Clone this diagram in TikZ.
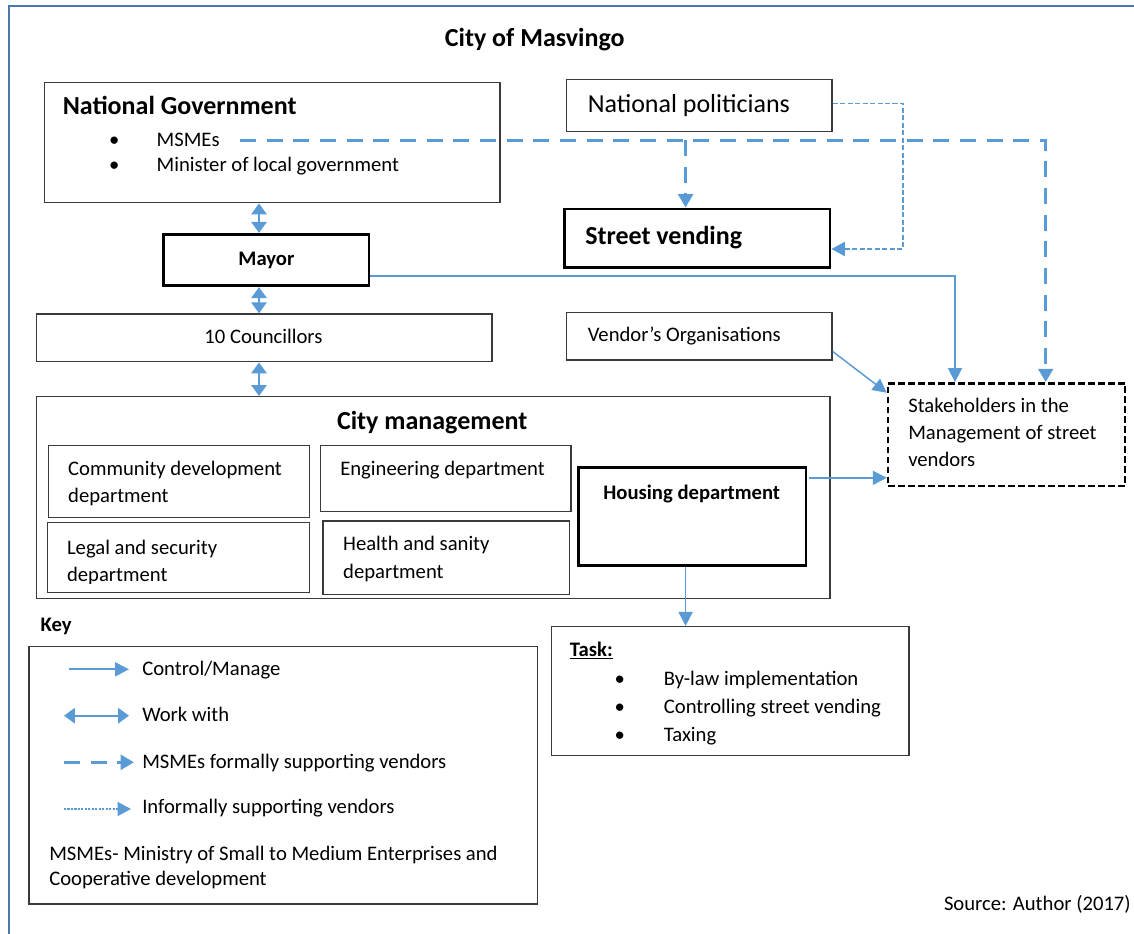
\documentclass[tikz,border=0pt]{standalone}
\usepackage{fontspec}
\setmainfont{Carlito}
\usetikzlibrary{arrows.meta,fit}

\definecolor{arrowblue}{HTML}{5B9BD5}
\definecolor{framebl}{HTML}{4A78AC}
\definecolor{boxgray}{HTML}{3A3A3A}

\newcommand\rowsL[1]{\begin{tabular}[t]{@{}l@{}}#1\end{tabular}}
\newcommand\bodysize{\fontsize{15.5}{20.8}\selectfont}
\newcommand\bigsize{\fontsize{19.5}{23}\selectfont}

\tikzset{
  box/.style={draw=boxgray, line width=1.1pt, inner sep=0pt},
  heavybox/.style={draw=black, line width=2.2pt, inner sep=0pt},
  stakebox/.style={draw=black, line width=1.8pt, dash pattern=on 5pt off 2.5pt, inner sep=0pt},
  txt/.style={inner sep=0pt, anchor=base west, font=\bodysize},
  bigtxt/.style={txt, font=\bigsize},
  control/.style={draw=arrowblue, line width=1.1pt, -{Triangle[length=10.5pt,width=10.5pt]}},
  workwith/.style={draw=arrowblue, line width=1.5pt,
    {Triangle[length=8.2pt,width=11.5pt]}-{Triangle[length=8.2pt,width=11.5pt]}},
  formal/.style={draw=arrowblue, line width=2.3pt, dash pattern=on 12pt off 8pt,
    -{Triangle[length=10pt,width=11pt]}},
  informal/.style={draw=arrowblue, line width=1.4pt, dash pattern=on 3.8pt off 1.8pt,
    -{Triangle[length=10pt,width=10.5pt]}},
  keycontrol/.style={control, line width=1.7pt},
  keyinformal/.style={informal, line width=0.8pt, dash pattern=on 1.6pt off 1pt},
}

\begin{document}
\begin{tikzpicture}[x=0.75pt, y=-0.75pt]
\useasboundingbox (0,0) rectangle (1134,934);

% page frame
\draw[framebl, line width=2pt] (9,934) -- (9,6) -- (1134,6);

% title
\node[txt, font=\bigsize\bfseries] (title) at (444.6,46.7) {City of Masvingo};

% national government
\node[box, fit={(44.6,82.3) (500,202.7)}] (natgov) {};
\node[txt, font=\bigsize\bfseries] (natgov-t) at (62.5,115) {National Government};
\node[txt, anchor=base] (ngb1) at (114.3,147) {•};
\node[txt, anchor=base] (ngb2) at (114.3,172) {•};
\node[txt] (msmes) at (156.4,147) {MSMEs};
\node[txt] (minister) at (156.4,172) {Minister of local government};

% national politicians and street vending
\node[box, fit={(566.6,79.3) (832,131.7)}] (natpol) {};
\node[bigtxt] (natpol-t) at (587.5,112.7) {National politicians};
\node[heavybox, fit={(564.7,209) (830,267.3)}] (street) {};
\node[txt, font=\bigsize\bfseries] (street-t) at (585,244) {Street vending};

% mayor and councillors
\node[heavybox, fit={(163.6,234.3) (369,285.7)}] (mayor) {};
\node[txt, anchor=base, font=\bodysize\bfseries] (mayor-t) at (266.4,265) {Mayor};
\node[box, fit={(36.4,314) (491.8,361.7)}] (council) {};
\node[txt, anchor=base] (council-t) at (263.4,343) {10 Councillors};

% vendors' organisations
\node[box, fit={(566.6,312.3) (832,360)}] (vendor) {};
\node[txt] (vendor-t) at (587.5,341.7) {Vendor’s Organisations};

% city management and departments
\node[box, fit={(36.4,396.7) (830,598.3)}] (citymgmt) {};
\node[txt, font=\bigsize\bfseries] (citymgmt-t) at (336.8,429.3) {City management};
\node[box, fit={(48.6,445.7) (309.3,517.3)}] (community) {};
\node[txt] (community-t) at (67.9,475) {\rowsL{Community development\\department}};
\node[box, fit={(320.4,445.7) (571,511.7)}] (engineering) {};
\node[txt] (engineering-t) at (340,475) {Engineering department};
\node[box, fit={(47.5,522.7) (309.3,592.7)}] (legal) {};
\begin{scope}
  \clip (47.5,522.7) rectangle (309.3,583.5);
  \node[txt] (legal-t) at (66.8,554) {\rowsL{Legal and security\\department}};
\end{scope}
\node[box, fit={(323.2,521) (569.7,594.3)}] (health) {};
\node[txt] (health-t) at (342.9,550.7) {\rowsL{Health and sanity\\department}};
\node[heavybox, fit={(578.8,467.3) (806,565.7)}] (housing) {};
\node[txt, anchor=base, font=\bodysize\bfseries] (housing-t) at (691.7,499) {Housing department};

% stakeholders
\node[stakebox, fit={(888,383.3) (1125,486)}] (stake) {};
\node[txt, font=\fontsize{15.5}{20.25}\selectfont] (stake-t) at (908,412.7)
  {\rowsL{Stakeholders in the\\Management of street\\vendors}};

% task box
\node[box, fit={(551.4,626.7) (908.8,755.7)}] (task) {};
\node[txt, font=\bodysize\bfseries] (task-t) at (569.7,656) {\underline{Task:}};
\node[txt, anchor=base] (tb1) at (619.8,685) {•};
\node[txt, anchor=base] (tb2) at (619.8,713.3) {•};
\node[txt, anchor=base] (tb3) at (619.8,741.7) {•};
\node[txt] (task1) at (663.6,685) {By-law implementation};
\node[txt] (task2) at (663.6,713.3) {Controlling street vending};
\node[txt] (task3) at (663.6,741.7) {Taxing};

% connectors
\coordinate (wcol) at (259,0);
\draw[workwith] (wcol |- natgov.south) -- (wcol |- mayor.north);
\draw[workwith] (wcol |- mayor.south) -- (wcol |- council.north);
\draw[workwith] (wcol |- council.south) -- (wcol |- citymgmt.north);

\coordinate (fcol) at (1045.7,0);
\coordinate (fbranch) at (685.6,140);
\draw[formal] ([xshift=15pt]msmes.east) -| (fcol |- stake.north);
\draw[formal] (fbranch) -- (fbranch |- street.north);

\coordinate (icol) at (903,249);
\draw[informal] ([yshift=1.5pt]natpol.east) -| (icol) -- (icol -| street.east);

\coordinate (mcol) at (955,0);
\draw[control] ([yshift=-12pt]mayor.east) -| (mcol |- stake.north);
\draw[control] ([yshift=-11.5pt]vendor.east) -- ([yshift=-8pt]stake.north west);
\draw[control] ([xshift=1pt,yshift=29pt]housing.east) -- ([yshift=29pt]housing.east -| stake.west);
\coordinate (tcol) at (685.6,0);
\draw[control] (tcol |- housing.south) -- (tcol |- task.north);

% key
\node[txt, font=\bodysize\bfseries] (key-t) at (40.4,631.7) {Key};
\node[box, fit={(29,646.7) (537.5,904)}] (key) {};
\coordinate (k1s) at (69,669.3);  \coordinate (k1e) at (129,669.3);
\coordinate (k2s) at (64,715.7);  \coordinate (k2e) at (129,715.7);
\coordinate (k3s) at (64,762.3);  \coordinate (k3e) at (134,762.3);
\coordinate (k4s) at (64,809);    \coordinate (k4e) at (131,809);
\draw[keycontrol] (k1s) -- (k1e);
\draw[workwith] (k2s) -- (k2e);
\draw[formal] (k3s) -- (k3e);
\draw[keyinformal] (k4s) -- (k4e);
\node[txt] (key1) at (142,675) {Control/Manage};
\node[txt] (key2) at (142,721.7) {Work with};
\node[txt] (key3) at (142,768.3) {MSMEs formally supporting vendors};
\node[txt] (key4) at (142,813.3) {Informally supporting vendors};
\node[txt, font=\fontsize{15.5}{18.75}\selectfont] (keynote) at (49,860)
  {\rowsL{MSMEs- Ministry of Small to Medium Enterprises and\\Cooperative development}};

% source line
\node[txt, anchor=base east] (source) at (1131,910) {Source: Author (2017)};
\end{tikzpicture}
\end{document}
